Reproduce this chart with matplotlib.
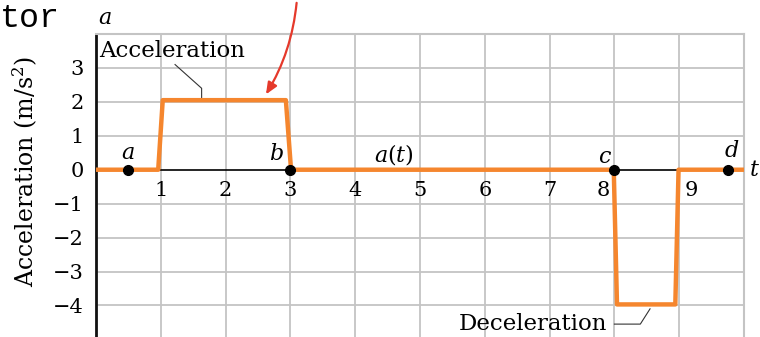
import numpy as np
import matplotlib.pyplot as plt

# acceleration a(t): time points and values of the orange curve
t = [0, 0.96, 1.03, 2.93, 3.01, 7.99, 8.04, 8.94, 8.99, 10]
acc = [0, 0, 2.05, 2.05, 0, 0, -3.97, -3.97, 0, 0]

# labelled points on the t axis
pt_names = ['a', 'b', 'c', 'd']
pt_t = [0.49, 3.0, 8.0, 9.76]

yticks = [-4, -3, -2, -1, 0, 1, 2, 3]
xticks = [1, 2, 3, 4, 5, 6, 7, 8, 9]

orange = '#F5862E'
grid_c = '#c4c4c4'
serif = ['DejaVu Serif']
plt.rcParams['font.family'] = serif
plt.rcParams['mathtext.fontset'] = 'dejavuserif'

fig = plt.figure(figsize=(7.6, 3.37), dpi=100)
ax = fig.add_axes([96 / 760, 0, 648 / 760, 303 / 337])
ax.set_xlim(0, 10)
ax.set_ylim(-4.93, 4.0)

for x in xticks:
    ax.axvline(x, color=grid_c, lw=1.3, zorder=1)
for y in yticks:
    if y != 0:
        ax.axhline(y, color=grid_c, lw=1.3, zorder=1)

ax.axhline(0, color='black', lw=1.2, zorder=2)
ax.plot(t, acc, color=orange, lw=3.2, solid_joinstyle='round',
        solid_capstyle='butt', zorder=3)
ax.plot(pt_t, [0] * len(pt_t), 'o', color='black', ms=7, zorder=4)

for s in ['top', 'right']:
    ax.spines[s].set_color(grid_c)
    ax.spines[s].set_linewidth(1.5)
ax.spines['bottom'].set_visible(False)
ax.spines['left'].set_linewidth(2)
ax.spines['left'].set_color('#111111')
ax.set_xticks([])
ax.set_yticks(yticks)
ax.set_yticklabels([str(v).replace('-', '\u2212') for v in yticks])
ax.tick_params(axis='y', length=0, pad=9, labelsize=15)

# x tick numbers drawn under the t axis
x_off = {8: -0.17, 9: 0.18}
for x in xticks:
    ax.text(x + x_off.get(x, 0), -0.62, str(x), ha='center', va='center',
            fontsize=15, zorder=5)

# point letters
offs = {'a': (0.0, 0.5), 'b': (-0.22, 0.45), 'c': (-0.15, 0.38), 'd': (0.05, 0.55)}
for name, x in zip(pt_names, pt_t):
    dx, dy = offs[name]
    ax.text(x + dx, dy, name, style='italic', fontsize=16, ha='center',
            va='center', zorder=5)
ax.text(4.6, 0.45, '$a(t)$', fontsize=16, ha='center', va='center')
ax.text(10.16, 0.0, '$t$', fontsize=16, ha='center', va='center',
        clip_on=False)

ax.set_ylabel('Acceleration (m/s$^2$)', fontsize=17)
ax.yaxis.set_label_coords(-0.086, 0.545)

# callouts
ax.text(0.05, 3.5, 'Acceleration', fontsize=16.5, ha='left', va='center')
ax.plot([1.22, 1.63, 1.63], [3.1, 2.4, 2.12], color='#333333', lw=0.8)
ax.text(5.6, -4.55, 'Deceleration', fontsize=16.5, ha='left', va='center')
ax.plot([8.0, 8.4, 8.55], [-4.55, -4.55, -4.1], color='#333333', lw=0.8)

# figure-level texts
fig.text(0.0, 0.99, 'tor', fontsize=24, family=['Liberation Mono', 'DejaVu Sans Mono'],
         ha='left', va='top')
fig.text(98 / 760, 1 - 18 / 337, '$a$', fontsize=16, ha='left', va='center')
ax.annotate('', xy=(2.6, 2.15), xycoords='data',
            xytext=(3.1, 5.0), textcoords='data',
            arrowprops=dict(arrowstyle='-|>,head_length=0.7,head_width=0.3',
                            color='#E5392B', lw=1.6,
                            connectionstyle='arc3,rad=-0.12'),
            annotation_clip=False)

fig.savefig('out.png', dpi=100)
